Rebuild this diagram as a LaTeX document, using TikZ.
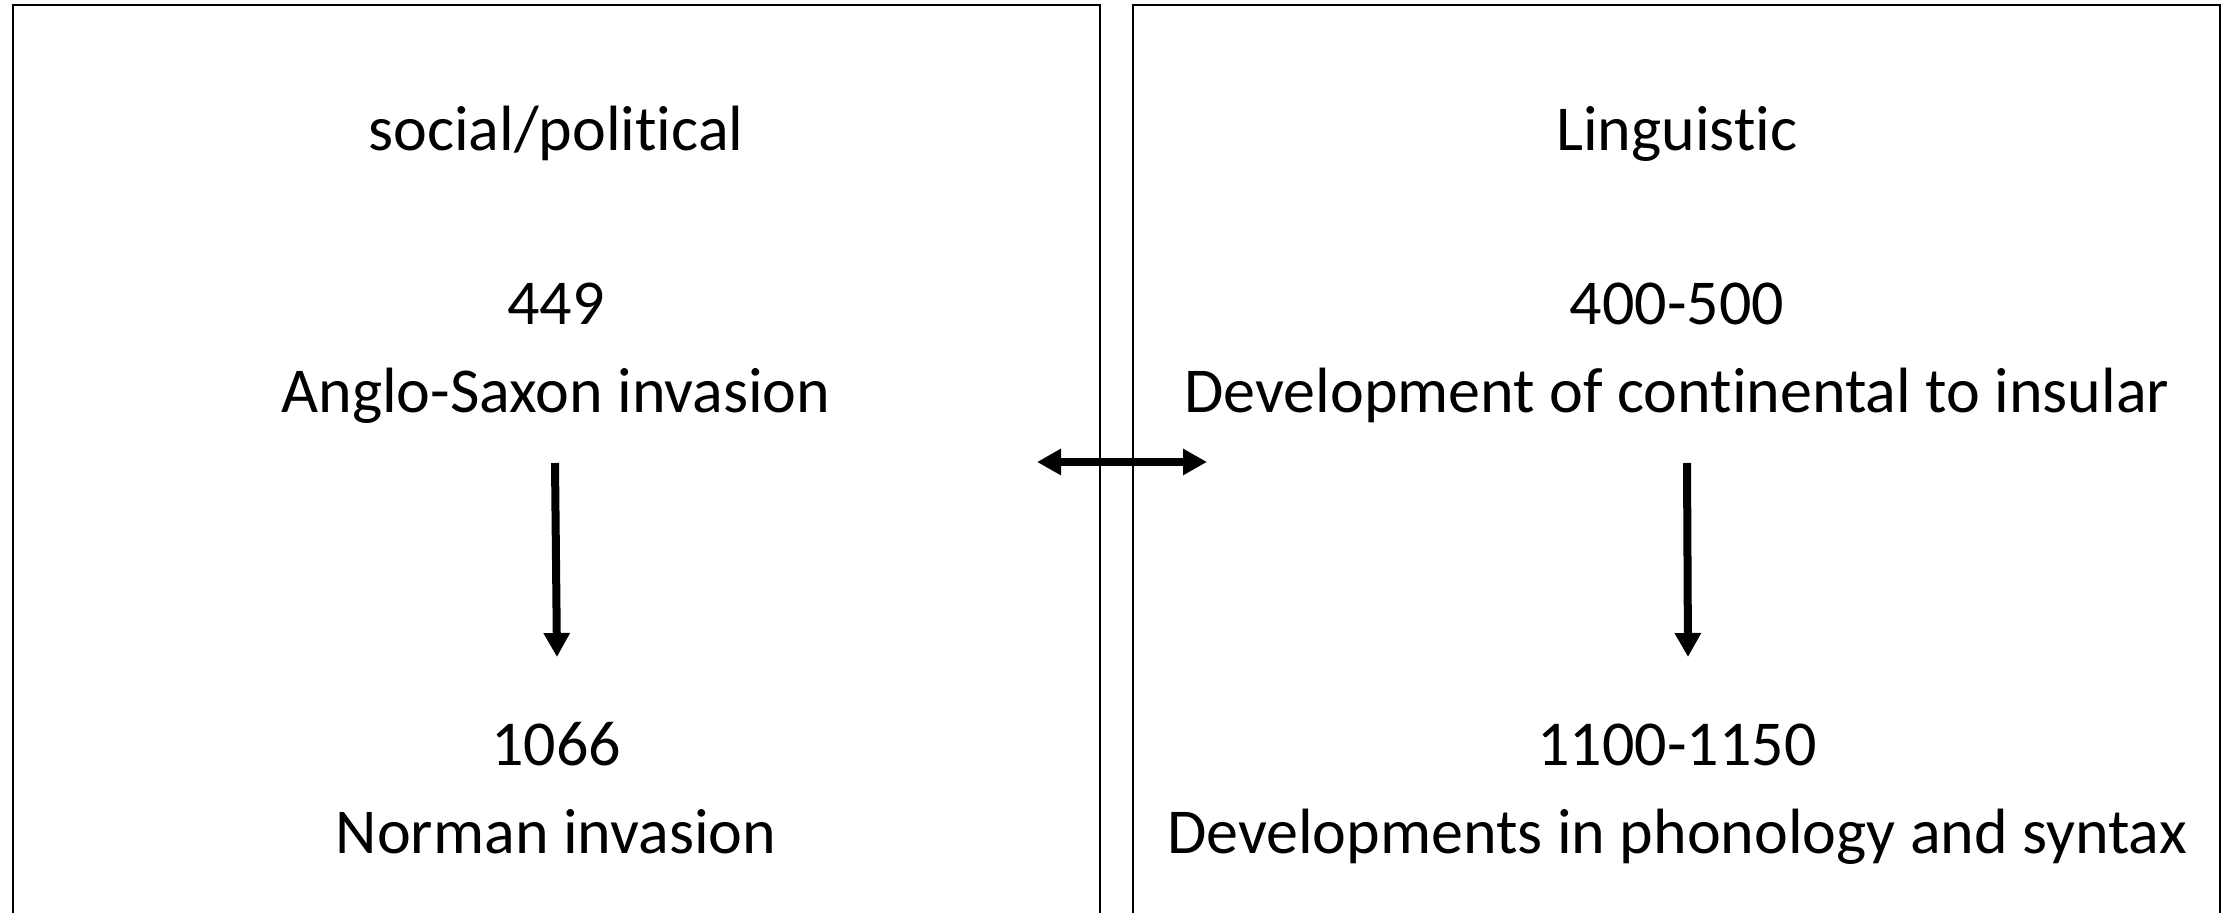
\documentclass[tikz,border=0pt]{standalone}
\usepackage{fontspec}
\setmainfont{Carlito}[Ligatures=NoCommon]
\usetikzlibrary{arrows.meta}
\tikzset{
  panel/.style={draw=black, line width=1pt},
  lbl/.style={anchor=base, inner sep=0pt, font=\fontsize{32}{38}\selectfont},
  arr/.style={line width=4pt, -{Triangle[length=12pt,width=12.5pt]}},
  darr/.style={line width=4pt, {Triangle[length=12pt,width=12.5pt]}-{Triangle[length=12pt,width=12.5pt]}}
}
\begin{document}
\begin{tikzpicture}[x=0.5pt,y=-0.5pt]
\useasboundingbox (0,0) rectangle (2233,913);
\clip (0,0) rectangle (2233,913);
\fill[white] (0,0) rectangle (2233,913);
% panels
\draw[panel] (13,5) rectangle (1100,960);
\draw[panel] (1133,5) rectangle (2220,960);
% left column
\node[lbl] (lh) at (556,151) {social/political};
\node[lbl] (ly1) at (556,325) {449};
\node[lbl] (le1) at (556,413) {Anglo-Saxon invasion};
\node[lbl] (ly2) at (556,766) {1066};
\node[lbl] (le2) at (556,854) {Norman invasion};
% right column
\node[lbl] (rh) at (1677,151) {Linguistic};
\node[lbl] (ry1) at (1677,325) {400-500};
\node[lbl] (re1) at (1677,413) {Development of continental to insular};
\node[lbl] (ry2) at (1677,766) {1100-1150};
\node[lbl] (re2) at (1677,854) {Developments in phonology and syntax};
% arrow ends
\coordinate (la) at (555,463);
\coordinate (lb) at (557,657);
\coordinate (ra) at (1687,463);
\coordinate (rb) at (1688,657);
\coordinate (ha) at (1037,462);
\coordinate (hb) at (1207,462);
\draw[arr] (la) -- (lb);
\draw[arr] (ra) -- (rb);
\draw[darr] (ha) -- (hb);
\end{tikzpicture}
\end{document}
